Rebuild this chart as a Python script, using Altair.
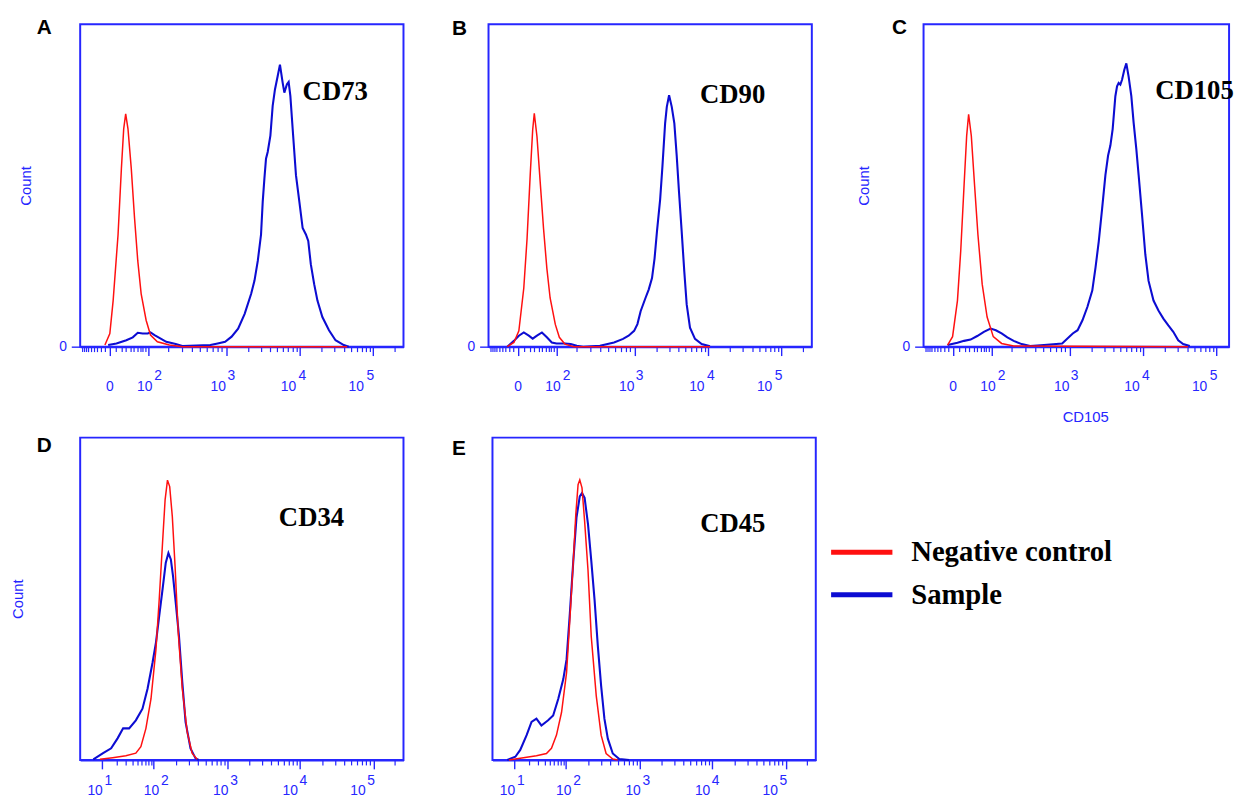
import altair as alt
import pandas as pd

SERIES = ["Negative control", "Sample"]
RED = "#ff1010"
BLUE_LINE = "#0c0cd2"
BLUE_UI = "#2626ff"

# ---------------- Panel A : CD73 ----------------
A_RED_X = [-10, 0, 5, 13.4, 19.8, 24.6, 29, 34.4, 42.8, 52, 62, 73.5, 92.5, 110, 140, 206, 304, 44500]
A_RED_Y = [0.5, 4.1, 14.3, 34.8, 55.3, 67.6, 72.2, 67.6, 55.3, 39.9, 26.6, 16.4, 8.2, 3.6, 1.5, 0.5, 0, 0]
A_BLUE_X = [-3.2, 10.5, 30.5, 47, 62, 79, 99, 110, 127, 154, 187, 250, 304, 661, 803, 977, 1197, 1472,
            1810, 2220, 2465, 2731, 3023, 3187, 3359, 3529, 3720, 4044, 4342, 4661, 5066, 5440, 5912,
            6231, 6752, 7117, 7503, 8054, 8920, 9900, 10980, 12170, 13110, 14210, 15800, 17510, 20450,
            25190, 30940, 40180, 46940]
A_BLUE_Y = [0.5, 1.0, 2.0, 2.9, 4.3, 4.1, 4.1, 4.4, 3.6, 2.6, 1.5, 0.8, 0.2, 0.5, 1.0, 1.5, 3.1, 5.6,
            10.2, 16.4, 20.5, 26.6, 34.8, 45.0, 52.2, 58.3, 60.4, 65.5, 74.7, 79.8, 83.9, 87.5, 81.9,
            78.8, 81.4, 82.1, 77.8, 67.6, 53.2, 45.0, 36.8, 34.8, 32.8, 25.6, 19.4, 14.3, 9.2,
            5.1, 2.0, 0.5, 0]

# ---------------- Panel B : CD90 ----------------
B_RED_X = [-24.8, -8.5, 1.0, 8.8, 14.6, 21, 26, 29.6, 36, 44.5, 54, 64.4, 75.7, 96, 112, 136, 182, 10640]
B_RED_Y = [0, 1.3, 4.9, 18.2, 33.5, 54.0, 67.3, 72.4, 65.2, 50.9, 36.6, 24.3, 15.1, 6.9, 2.9, 0.8, 0, 0]
B_BLUE_X = [-24.8, -8.5, 1.0, 8.8, 17.9, 26, 36, 49.2, 64.4, 81.9, 101, 136, 165, 200, 243, 396, 583,
            743, 860, 994, 1104, 1223, 1427, 1580, 1755, 1902, 2048, 2268, 2435, 2647, 2790, 2996,
            3256, 3529, 3801, 4081, 4436, 4807, 5176, 5733, 6691, 8230, 10640]
B_BLUE_Y = [0, 1.8, 3.4, 4.4, 3.4, 2.5, 3.4, 4.4, 2.9, 1.3, 1.0, 1.0, 0.8, 0.3, 0, 0.3, 1.3,
            2.4, 3.4, 4.9, 7.0, 11.0, 15.1, 17.7, 21.3, 27.4, 35.6, 45.8, 56.0, 69.3, 74.4, 78.0,
            74.4, 69.3, 59.1, 47.9, 35.6, 23.3, 13.1, 5.9, 2.4, 0.8, 0.1]

# ---------------- Panel C : CD105 ----------------
C_RED_X = [-11.6, -1.2, 6.5, 12.1, 18.4, 23.7, 28, 34.3, 42.6, 52, 65.4, 83, 107.6, 144, 212, 41320]
C_RED_Y = [0.5, 3.1, 14.3, 29.7, 50.1, 65.4, 72.1, 65.4, 50.1, 34.8, 19.4, 9.2, 3.1, 1.0, 0.2, 0]
C_BLUE_X = [-11.6, 6.5, 18.4, 32.6, 50, 71.1, 97, 118, 144, 174, 212, 270, 345, 508, 827, 957, 1114,
            1301, 1518, 1772, 2068, 2289, 2535, 2817, 3119, 3390, 3640, 3908, 4249, 4477, 4704, 4960,
            5225, 5610, 5968, 6408, 6966, 7477, 8128, 8728, 9696, 10740, 11900, 13910, 16250, 18980,
            22180, 25920, 30280, 35380, 43580]
C_BLUE_Y = [0.5, 1.2, 1.8, 2.2, 3.3, 4.6, 5.6, 5.1, 4.1, 2.9, 1.8, 0.8, 0.2, 0.5, 1.0, 2.6, 4.1,
            5.1, 8.2, 12.3, 17.4, 24.5, 32.7, 42.9, 53.2, 59.3, 62.4, 67.5, 77.7, 80.8, 81.8, 81.3,
            82.8, 85.9, 87.9, 83.8, 77.7, 69.5, 61.3, 53.2, 40.9, 28.6, 20.4, 14.3, 11.2, 8.7,
            6.6, 4.6, 2.0, 0.8, 0.2]

# ---------------- Panel D : CD34 ----------------
D_RED_X = [8.1, 16.6, 29.9, 46.3, 57.6, 71.7, 89.3, 107.6, 119, 132, 143, 154, 165, 179, 195, 215, 244, 284, 331, 386]
D_RED_Y = [0.2, 0.7, 1.3, 2.1, 4.1, 9.8, 19.0, 34.4, 49.8, 67.3, 80.7, 86.8, 84.8, 75.5, 60.1, 39.6, 22.1, 8.7, 2.1, 0.2]
D_BLUE_X = [3.35, 10.7, 15.5, 20.7, 26.5, 34.5, 46.3, 61.8, 76.9, 95.7, 107.6, 119, 132, 146, 158.5, 171,
            183, 199, 220, 244, 270, 315, 368, 407]
D_BLUE_Y = [0.2, 2.1, 3.6, 6.7, 9.8, 9.8, 12.3, 15.9, 22.1, 30.3, 36.5, 44.7, 52.9, 61.2, 64.2, 62.2,
            57.0, 48.8, 38.5, 24.2, 11.8, 3.6, 0.5, 0]

# ---------------- Panel E : CD45 ----------------
E_RED_X = [5.3, 15.5, 27.7, 43, 53.5, 66.5, 82.8, 102, 113, 126, 136, 146, 154, 165, 179, 199, 220, 257, 299, 349, 429, 500]
E_RED_Y = [0, 0.7, 1.3, 2.0, 3.6, 7.7, 14.8, 27.1, 43.5, 61.9, 76.2, 85.4, 86.9, 84.4, 74.1, 58.8, 38.3, 19.9, 7.7, 2.0, 0.3, 0]
E_BLUE_X = [4.2, 10.7, 13.4, 17.9, 22.3, 27.7, 34.5, 46.3, 57.6, 71.7, 89.3, 102, 113, 126, 139, 154, 165,
            179, 199, 220, 244, 270, 299, 331, 368, 429, 525, 713]
E_BLUE_Y = [0, 1.0, 3.1, 7.7, 11.8, 12.8, 10.7, 12.3, 13.8, 18.9, 25.1, 31.2, 45.5, 61.9, 75.2, 81.8, 82.8,
            81.3, 73.1, 61.9, 49.6, 35.3, 23.0, 12.8, 6.6, 2.0, 0.3, 0]

# marker annotations (name, x value, count %)
MARKERS = {
    "A": ("CD73", 10970, 76.6),
    "B": ("CD90", 7816, 75.5),
    "C": ("CD105", 14650, 76.7),
    "D": ("CD34", 5100, 72.5),
    "E": ("CD45", 6800, 70.8),
}

# axis definitions
AC_DOMAIN = [-100, 0, 100, 1000, 10000, 100000, 262144]
AC_RANGE = [0, 30, 68.5, 147.5, 222, 296, 327]
C_DOMAIN = [-100, 0, 100, 1000, 10000, 100000, 150000]
C_RANGE = [0, 30, 68.5, 147.5, 222, 296, 309]
DE_DOMAIN = [0, 10, 100, 1000, 10000, 100000, 262144]
DE_RANGE = [0, 21.7, 74.3, 149.3, 222.3, 296.7, 327]

AC_MAJOR = [0, 100, 1000, 10000, 100000]
AC_BASE = ["0", "10", "10", "10", "10"]
AC_BASE_SHIFT = [3.3, 4, -0.5, -4, -9.5]
AC_EXP_VALUES = [100, 1000, 10000, 100000]
AC_EXP = ["2", "3", "4", "5"]
AC_EXP_SHIFT = [6, 1, -1.6, -7]

DE_MAJOR = [10, 100, 1000, 10000, 100000]
DE_BASE = ["10", "10", "10", "10", "10"]
DE_BASE_SHIFT = [0.7, 5, 0.2, -2.5, -8.4]
DE_EXP_VALUES = [10, 100, 1000, 10000, 100000]
DE_EXP = ["1", "2", "3", "4", "5"]
DE_EXP_SHIFT = [2.5, 6.9, 2, -0.9, -6.9]

AC_MINOR = ([-m * 10 for m in range(1, 10)] + [m * 10 for m in range(1, 10)]
            + [m * 10 ** e for e in (2, 3, 4) for m in range(2, 10)])
DE_MINOR = [m * 10 ** e for e in (1, 2, 3, 4) for m in range(2, 10)]

LEGEND = alt.Legend(orient="none", legendX=772.5, legendY=516, title=None,
                    symbolType="M-2,0H2", symbolSize=961, symbolStrokeWidth=5,
                    labelFont="Liberation Serif", labelFontSize=29, labelFontWeight="bold",
                    labelColor="black", labelLimit=400, labelOffset=32, rowPadding=10)


def text_expr(values, texts):
    expr = "''"
    for v, t in reversed(list(zip(values, texts))):
        expr = f"(datum.value == {v} ? '{t}' : {expr})"
    return expr


def shift_cond(values, shifts):
    return {"condition": [{"test": f"datum.value == {v}", "value": s} for v, s in zip(values, shifts)],
            "value": 0}


LABEL_STYLE = dict(labelColor=BLUE_UI, labelFont="Liberation Sans", labelFontSize=14,
                   labelOverlap=False, labelFlush=False, labelBound=False, grid=False, orient="bottom")
Y_TITLE = dict(grid=False, domain=False, titleFont="Liberation Sans", titleFontSize=15,
               titleFontWeight="normal", orient="left")


def panel(key, red_x, red_y, blue_x, blue_y, dom, rng, const, ticks, minor, width,
          y_mode, letter_dx, letter_dy, pads, title_pad=21, x_title=None, x_title_x=0,
          spacer_pad=None):
    major, base, base_shift, exp_vals, exps, exp_shift = ticks
    base_pad, exp_pad = pads
    marker, mx, my = MARKERS[key]
    df_red = pd.DataFrame({"x": red_x, "count": red_y, "series": SERIES[0]})
    df_blue = pd.DataFrame({"x": blue_x, "count": blue_y, "series": SERIES[1]})
    df_txt = pd.DataFrame({"x": [mx], "count": [my], "label": [marker]})

    xscale = alt.Scale(type="symlog", constant=const, domain=dom, range=rng, nice=False, zero=False)
    yscale = alt.Scale(domain=[0, 100], nice=False, zero=True)
    color = alt.Color("series:N", scale=alt.Scale(domain=SERIES, range=[RED, BLUE_LINE]), legend=LEGEND)

    major_kw = dict(values=major, labelExpr=text_expr(major, base), tickSize=9, tickWidth=1.4,
                    tickColor=BLUE_UI, domain=True, domainColor=BLUE_UI, domainWidth=2,
                    labelAlign="right", labelOffset=shift_cond(major, base_shift),
                    labelPadding=base_pad, **LABEL_STYLE)
    if x_title:
        major_kw.update(title=x_title, titleFont="Liberation Sans", titleFontSize=15,
                        titleFontWeight="normal", titleColor=BLUE_UI, titleX=x_title_x,
                        titleY=64, titleBaseline="top", titleAlign="center")
    else:
        major_kw["title"] = None
    major_axis = alt.Axis(**major_kw)
    minor_axis = alt.Axis(values=minor, tickSize=5, tickWidth=1.2, tickColor=BLUE_UI, labels=False,
                          domain=False, grid=False, title=None, orient="bottom")
    exp_axis = alt.Axis(values=exp_vals, labelExpr=text_expr(exp_vals, exps), ticks=False, tickSize=0,
                        domain=False, title=None, labelAlign="left",
                        labelOffset=shift_cond(exp_vals, exp_shift), labelPadding=exp_pad,
                        **LABEL_STYLE)

    zero_kw = dict(values=[0], tickSize=9, tickWidth=1.4, tickColor=BLUE_UI, labelColor=BLUE_UI,
                   labelFont="Liberation Sans", labelFontSize=14, labelPadding=5)
    if y_mode == "full":
        yaxis = alt.Axis(title="Count", titleColor=BLUE_UI, titlePadding=title_pad, **zero_kw, **Y_TITLE)
    elif y_mode == "zero":
        yaxis = alt.Axis(title=None, **zero_kw, **Y_TITLE)
    elif y_mode == "title":
        yaxis = alt.Axis(values=[0], title="Count", titleColor=BLUE_UI, titlePadding=title_pad,
                         ticks=False, labels=False, **Y_TITLE)
    else:
        yaxis = None
    if spacer_pad is not None:
        # blank twin of the row-2 "Count" title (drawn first, underneath) so both rows line up
        blue_yaxis = alt.Axis(values=[0], title="Count", titleColor="white", titlePadding=spacer_pad,
                              ticks=False, labels=False, **Y_TITLE)
        red_yaxis = yaxis
    else:
        blue_yaxis = yaxis
        red_yaxis = None

    blue = alt.Chart(df_blue).mark_line(strokeWidth=2.1).encode(
        x=alt.X("x:Q", scale=xscale, axis=major_axis),
        y=alt.Y("count:Q", scale=yscale, axis=blue_yaxis),
        color=color)
    red = alt.Chart(df_red).mark_line(strokeWidth=1.5).encode(
        x=alt.X("x:Q", scale=xscale, axis=minor_axis),
        y=alt.Y("count:Q", scale=yscale, axis=red_yaxis),
        color=color)
    txt = alt.Chart(df_txt).mark_text(align="left", baseline="alphabetic", font="Liberation Serif",
                                      fontSize=27, fontWeight="bold", color="black").encode(
        x=alt.X("x:Q", scale=xscale, axis=exp_axis),
        y=alt.Y("count:Q", scale=yscale, axis=None),
        text="label:N")
    title = alt.TitleParams(text=key, anchor="start", frame="group", orient="top", offset=0,
                            dx=letter_dx, dy=letter_dy, baseline="top", fontSize=21,
                            font="Liberation Sans", fontWeight="bold", color="black")
    return alt.layer(blue, red, txt).resolve_axis(x="independent", y="independent").properties(
        width=width, height=326, title=title)


AC_TICKS = (AC_MAJOR, AC_BASE, AC_BASE_SHIFT, AC_EXP_VALUES, AC_EXP, AC_EXP_SHIFT)
DE_TICKS = (DE_MAJOR, DE_BASE, DE_BASE_SHIFT, DE_EXP_VALUES, DE_EXP, DE_EXP_SHIFT)

pA = panel("A", A_RED_X, A_RED_Y, A_BLUE_X, A_BLUE_Y, AC_DOMAIN, AC_RANGE, 50, AC_TICKS,
           AC_MINOR + [200000], 327, "full", -44, 13.4, (24, 22), title_pad=25, spacer_pad=55)
pB = panel("B", B_RED_X, B_RED_Y, B_BLUE_X, B_BLUE_Y, AC_DOMAIN, AC_RANGE, 50, AC_TICKS,
           AC_MINOR + [200000], 327, "zero", -37, 14.4, (24, 22))
pC = panel("C", C_RED_X, C_RED_Y, C_BLUE_X, C_BLUE_Y, C_DOMAIN, C_RANGE, 50, AC_TICKS,
           AC_MINOR, 309, "full", -32, 14, (24, 22), title_pad=31, x_title="CD105", x_title_x=163.5)
pD = panel("D", D_RED_X, D_RED_Y, D_BLUE_X, D_BLUE_Y, DE_DOMAIN, DE_RANGE, 1, DE_TICKS,
           DE_MINOR + [200000], 327, "title", -44, 18.4, (15, 14), title_pad=55)
pE = panel("E", E_RED_X, E_RED_Y, E_BLUE_X, E_BLUE_Y, DE_DOMAIN, DE_RANGE, 1, DE_TICKS,
           DE_MINOR + [200000], 327, "none", -41, 21.7, (15, 14))

RES = dict(x="independent", y="independent", color="shared")
row1_ab = alt.hconcat(pA, pB, spacing=86, bounds="flush").resolve_scale(**RES)
row1 = alt.hconcat(row1_ab, pC, spacing=43, bounds="full").resolve_scale(**RES)
row2 = alt.hconcat(pD, pE, spacing=90, bounds="flush").resolve_scale(**RES)

chart = alt.vconcat(row1, row2, spacing=8, bounds="full").resolve_scale(**RES).properties(
    padding={"left": 2, "top": 3, "right": 0, "bottom": 0}
).configure(background="white").configure_view(stroke=BLUE_UI, strokeWidth=2)

chart.save("out.html", embed_options={"renderer": "svg", "actions": False})
